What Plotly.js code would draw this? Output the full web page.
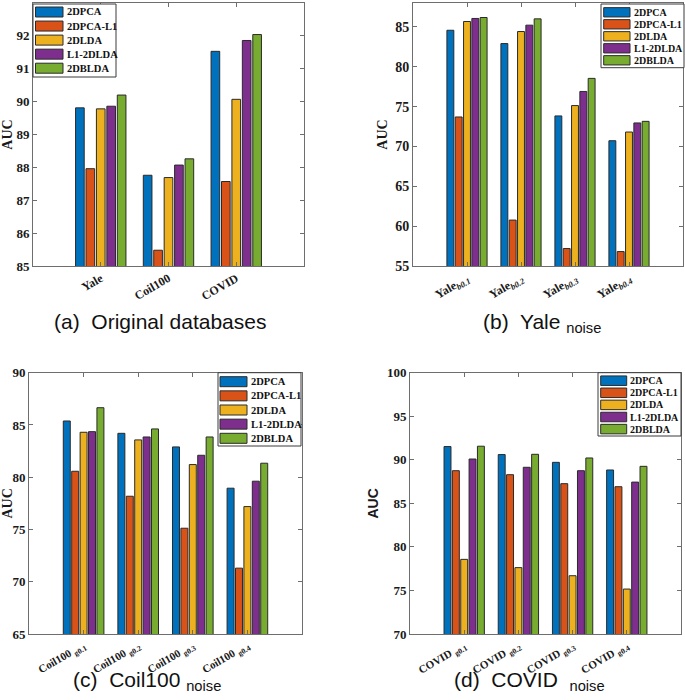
<!DOCTYPE html>
<html>
<head>
<meta charset="utf-8">
<script src="https://cdn.plot.ly/plotly-3.0.1.min.js"></script>
<style>html,body{margin:0;padding:0;background:#fff;}#chart{width:685px;height:700px;}</style>
</head>
<body>
<div id="chart"></div>
<script>
// ---- data ----
const methods = ["2DPCA", "2DPCA-L1", "2DLDA", "L1-2DLDA", "2DBLDA"];
const colors = ["#0072BD", "#D95319", "#EDB120", "#7E2F8E", "#77AC30"];

const catsA = ["Yale", "Coil100", "COVID"];
const valsA = [
  [89.81, 87.76, 91.53],   // 2DPCA
  [87.96, 85.48, 87.57],   // 2DPCA-L1
  [89.78, 87.69, 90.07],   // 2DLDA
  [89.86, 88.07, 91.86],   // L1-2DLDA
  [90.20, 88.26, 92.04]    // 2DBLDA
];

const catsB = ["Yale<sub><i>b0.1</i></sub>", "Yale<sub><i>b0.2</i></sub>", "Yale<sub><i>b0.3</i></sub>", "Yale<sub><i>b0.4</i></sub>"];
const valsB = [
  [84.58, 82.91, 73.83, 70.72],
  [73.70, 60.76, 57.19, 56.81],
  [85.68, 84.42, 75.13, 71.81],
  [86.06, 85.22, 76.90, 72.95],
  [86.18, 86.01, 78.54, 73.15]
];

const catsC = ["Coil100 <sub>g0.1</sub>", "Coil100 <sub>g0.2</sub>", "Coil100 <sub>g0.3</sub>", "Coil100 <sub>g0.4</sub>"];
const valsC = [
  [85.38, 84.20, 82.90, 78.95],
  [80.57, 78.18, 75.12, 71.30],
  [84.30, 83.57, 81.21, 77.19],
  [84.36, 83.85, 82.10, 79.62],
  [86.65, 84.62, 83.85, 81.34]
];

const catsD = ["COVID <sub>g0.1</sub>", "COVID <sub>g0.2</sub>", "COVID <sub>g0.3</sub>", "COVID <sub>g0.4</sub>"];
const valsD = [
  [91.52, 90.60, 89.71, 88.83],
  [88.75, 88.29, 87.26, 86.91],
  [78.57, 77.62, 76.69, 75.16],
  [90.09, 89.14, 88.75, 87.44],
  [91.56, 90.63, 90.21, 89.25]
];

const captions = [
  "(a)  Original databases",
  "(b)  Yale <sub>noise</sub>",
  "(c)  Coil100 <sub>noise</sub>",
  "(d)  COVID  <sub>noise</sub>"
];

// ---- helpers ----
const W = 685, H = 700;
const PX = x => x / W;
const PY = y => 1 - y / H;
const SERIF = "Liberation Serif, Times New Roman, serif";
const SANS = "Liberation Sans, Arial, Helvetica, sans-serif";

const panels = [
  {cats: catsA, vals: valsA, xa: "x",  ya: "y"},
  {cats: catsB, vals: valsB, xa: "x2", ya: "y2"},
  {cats: catsC, vals: valsC, xa: "x3", ya: "y3"},
  {cats: catsD, vals: valsD, xa: "x4", ya: "y4"}
];

const traces = [];
panels.forEach(p => {
  methods.forEach((m, i) => {
    traces.push({
      type: "bar",
      name: m,
      x: p.cats,
      y: p.vals[i],
      xaxis: p.xa,
      yaxis: p.ya,
      marker: {color: colors[i], line: {color: "#2a2a2a", width: 1}},
      showlegend: false,
      hoverinfo: "x+y+name"
    });
  });
});

function xAxis(dom, cats, anchor, fs) {
  return {
    domain: dom, anchor: anchor, type: "category",
    range: [-1, cats.length],
    showline: true, linecolor: "#6e6e6e", linewidth: 1, mirror: "ticks",
    ticks: "inside", ticklen: 4, tickcolor: "#6e6e6e",
    tickangle: -30,
    tickfont: {family: SERIF, size: fs, color: "#1a1a1a", weight: "bold"},
    showgrid: false, zeroline: false, fixedrange: true
  };
}
function yAxis(dom, range, dtick, anchor, titleFamily, fs) {
  return {
    domain: dom, anchor: anchor, range: range, tick0: range[0], dtick: dtick,
    showline: true, linecolor: "#6e6e6e", linewidth: 1, mirror: "ticks",
    ticks: "inside", ticklen: 4, tickcolor: "#6e6e6e",
    tickfont: {family: SERIF, size: fs, color: "#1a1a1a", weight: "bold"},
    title: {text: "AUC", standoff: 4, font: {family: titleFamily, size: 14, color: "#1a1a1a", weight: "bold"}},
    showgrid: false, zeroline: false, fixedrange: true
  };
}

const yTop = [PY(266), PY(3)];
const yBot = [PY(634), PY(372.7)];

// ---- legends (drawn from methods/colors) ----
const shapes = [];
const annotations = [];
function addLegend(box, swX0, swX1, textX, row0, rowStep, swH, fs) {
  shapes.push({type: "rect", xref: "paper", yref: "paper",
    x0: PX(box[0]), x1: PX(box[2]), y0: PY(box[3]), y1: PY(box[1]),
    line: {color: "#3a3a3a", width: 1}, fillcolor: "#ffffff", layer: "above"});
  methods.forEach((m, i) => {
    const cy = row0 + i * rowStep;
    shapes.push({type: "rect", xref: "paper", yref: "paper",
      x0: PX(swX0), x1: PX(swX1), y0: PY(cy + swH / 2), y1: PY(cy - swH / 2),
      line: {color: "#2a2a2a", width: 1}, fillcolor: colors[i], layer: "above"});
    annotations.push({xref: "paper", yref: "paper", x: PX(textX), y: PY(cy),
      xanchor: "left", yanchor: "middle", showarrow: false, text: m,
      font: {family: SERIF, size: fs, color: "#111", weight: "bold"}});
  });
}
addLegend([33, 4, 116, 77], 35.5, 63, 65, 12, 14.05, 10, 10.5);
addLegend([601, 4, 684, 67.7], 603.7, 630, 631.5, 12.3, 12, 9.3, 10);
addLegend([218, 372.7, 301, 446], 220, 247, 248.5, 381.7, 14.15, 10, 10.5);
addLegend([598, 372.7, 681, 436], 600.7, 626.7, 628, 380.7, 12.1, 9.5, 10);

// ---- captions ----
const capPos = [[160, 308], [542, 308], [147, 666], [529, 666]];
captions.forEach((c, i) => {
  annotations.push({xref: "paper", yref: "paper", x: PX(capPos[i][0]), y: PY(capPos[i][1]),
    xanchor: "center", yanchor: "top", showarrow: false, text: c,
    font: {family: SANS, size: 21, color: "#111"}});
});

const layout = {
  width: W, height: H,
  margin: {l: 0, r: 0, t: 0, b: 0},
  paper_bgcolor: "#ffffff", plot_bgcolor: "#ffffff",
  barmode: "group", bargap: 0.23, bargroupgap: 0.17,
  showlegend: false,
  xaxis:  xAxis([PX(33), PX(304)], catsA, "y", 12),
  yaxis:  yAxis(yTop, [85, 93], 1, "x", SERIF, 13),
  xaxis2: xAxis([PX(413), PX(683)], catsB, "y2", 12),
  yaxis2: yAxis(yTop, [55, 88], 5, "x2", SERIF, 14),
  xaxis3: xAxis([PX(29), PX(302)], catsC, "y3", 11),
  yaxis3: yAxis(yBot, [65, 90], 5, "x3", SERIF, 13),
  xaxis4: xAxis([PX(410), PX(681)], catsD, "y4", 11),
  yaxis4: yAxis(yBot, [70, 100], 5, "x4", SANS, 13),
  shapes: shapes,
  annotations: annotations
};

Plotly.newPlot("chart", traces, layout, {displayModeBar: false, staticPlot: true});
</script>
</body>
</html>
